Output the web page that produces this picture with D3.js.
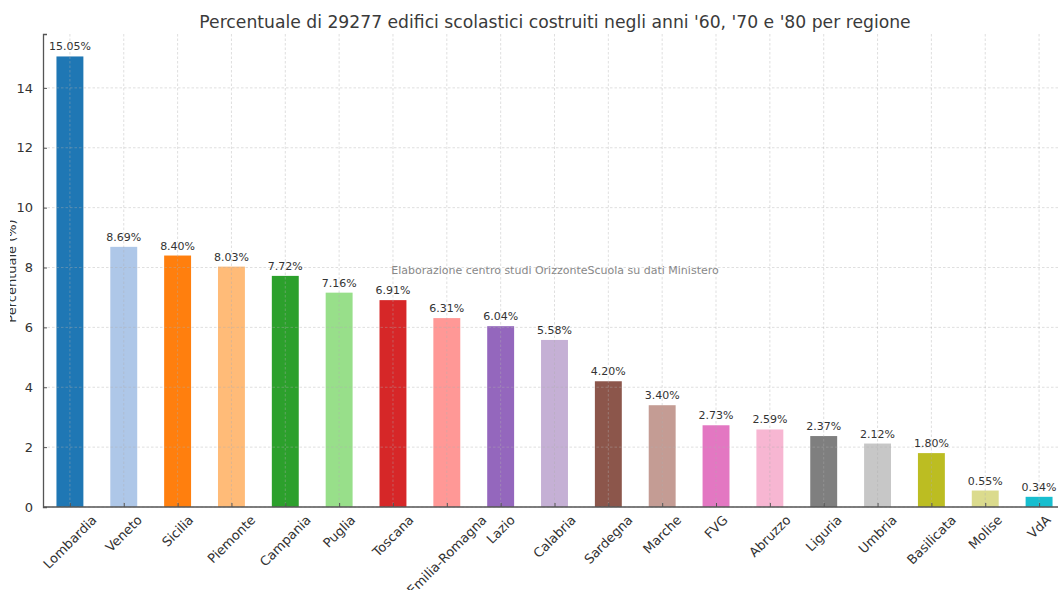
<!DOCTYPE html>
<html>
<head>
<meta charset="utf-8">
<script src="https://cdn.jsdelivr.net/npm/d3@7"></script>
<style>
  body { margin: 0; background: #fff; }
  text { font-family: "DejaVu Sans", sans-serif; }
</style>
</head>
<body>
<div id="the_chart"></div>
<script>
var regioni = ["Lombardia", "Veneto", "Sicilia", "Piemonte", "Campania", "Puglia", "Toscana",
               "Emilia-Romagna", "Lazio", "Calabria", "Sardegna", "Marche", "FVG", "Abruzzo",
               "Liguria", "Umbria", "Basilicata", "Molise", "VdA"];
var percentuali = [15.05, 8.69, 8.40, 8.03, 7.72, 7.16, 6.91, 6.31, 6.04, 5.58, 4.20, 3.40,
                   2.73, 2.59, 2.37, 2.12, 1.80, 0.55, 0.34];
var yticks = [0, 2, 4, 6, 8, 10, 12, 14];
var titolo = "Percentuale di 29277 edifici scolastici costruiti negli anni '60, '70 e '80 per regione";
var ylabel = "Percentuale (%)";
var nota = "Elaborazione centro studi OrizzonteScuola su dati Ministero";

var colori = ["#1f77b4", "#aec7e8", "#ff7f0e", "#ffbb78", "#2ca02c", "#98df8a", "#d62728",
              "#ff9896", "#9467bd", "#c5b0d5", "#8c564b", "#c49c94", "#e377c2", "#f7b6d2",
              "#7f7f7f", "#c7c7c7", "#bcbd22", "#dbdb8d", "#17becf"];

gen_vis();

function gen_vis() {
  var w = 1058, h = 590;
  var m_left = 43, m_top = 34, m_bottom = 507;

  var svg = d3.select("#the_chart").append("svg")
      .attr("width", w)
      .attr("height", h);

  var xscale = d3.scaleLinear()
      .domain([-0.5, regioni.length - 0.5])
      .range([m_left, 1066]);
  var yscale = d3.scaleLinear()
      .domain([0, 15.8])
      .range([m_bottom, m_top]);
  var bar_w = xscale(0.5) - xscale(0);

  // bars
  svg.selectAll("rect.bar")
      .data(percentuali)
    .enter().append("rect")
      .attr("class", "bar")
      .attr("x", function(d, i) { return xscale(i) - bar_w / 2; })
      .attr("y", function(d) { return yscale(d); })
      .attr("width", bar_w)
      .attr("height", function(d) { return m_bottom - yscale(d); })
      .attr("fill", function(d, i) { return colori[i]; });

  // grid
  var grid = svg.append("g").attr("class", "grid");
  grid.selectAll("line.h")
      .data(yticks)
    .enter().append("line")
      .attr("x1", m_left).attr("x2", w)
      .attr("y1", function(d) { return yscale(d); })
      .attr("y2", function(d) { return yscale(d); });
  grid.selectAll("line.v")
      .data(regioni)
    .enter().append("line")
      .attr("x1", function(d, i) { return xscale(i); })
      .attr("x2", function(d, i) { return xscale(i); })
      .attr("y1", m_top).attr("y2", m_bottom);
  grid.selectAll("line")
      .attr("stroke", "#b0b0b0")
      .attr("stroke-opacity", 0.5)
      .attr("stroke-width", 0.8)
      .attr("stroke-dasharray", "2.5,2");

  // y axis
  var yaxis = d3.axisLeft(yscale)
      .tickValues(yticks)
      .tickSize(-4)
      .tickPadding(10);
  var gy = svg.append("g")
      .attr("transform", "translate(" + m_left + ",0)")
      .call(yaxis);
  gy.select(".domain").attr("stroke", "#555").attr("stroke-width", 1.3);
  gy.selectAll(".tick line").attr("stroke", "#555");
  gy.selectAll(".tick text")
      .attr("fill", "#333")
      .style("font-size", "13px")
      .style("font-family", "DejaVu Sans");

  // x axis
  var xaxis = d3.axisBottom(xscale)
      .tickValues(d3.range(regioni.length))
      .tickSize(-4)
      .tickFormat("");
  var gx = svg.append("g")
      .attr("transform", "translate(0," + m_bottom + ")")
      .call(xaxis);
  gx.select(".domain").attr("d", "M" + m_left + ",0H" + w).attr("stroke", "#555").attr("stroke-width", 1.3);
  gx.selectAll(".tick line").attr("stroke", "#555");

  // category labels, rotated 45 and centred on tick
  svg.selectAll("text.cat")
      .data(regioni)
    .enter().append("text")
      .attr("class", "cat")
      .attr("text-anchor", "middle")
      .style("font-size", "13px")
      .attr("fill", "#333")
      .text(function(d) { return d; })
      .each(function(d, i) {
        var len = this.getComputedTextLength();
        var cx = xscale(i);
        var cy = m_bottom + 6 + (len + 13) * Math.SQRT1_2 / 2;
        d3.select(this)
          .attr("transform", "translate(" + cx + "," + cy + ") rotate(-45)")
          .attr("dy", "0.35em");
      });

  // value labels
  svg.selectAll("text.val")
      .data(percentuali)
    .enter().append("text")
      .attr("class", "val")
      .attr("x", function(d, i) { return xscale(i); })
      .attr("y", function(d) { return yscale(d) - 6; })
      .attr("text-anchor", "middle")
      .style("font-size", "11px")
      .attr("fill", "#333")
      .text(function(d) { return d.toFixed(2) + "%"; });

  // title
  svg.append("text")
      .attr("x", 555)
      .attr("y", 28)
      .attr("text-anchor", "middle")
      .style("font-size", "17.2px")
      .attr("fill", "#3a3a3a")
      .text(titolo);

  // watermark
  svg.append("text")
      .attr("x", 555)
      .attr("y", 274)
      .attr("text-anchor", "middle")
      .style("font-size", "11px")
      .attr("fill", "#888")
      .text(nota);

  // y label, partly cropped on the left as in the picture
  svg.append("clipPath").attr("id", "ycut")
    .append("rect").attr("x", 10).attr("y", 0).attr("width", 30).attr("height", h);
  svg.append("g")
      .attr("clip-path", "url(#ycut)")
    .append("text")
      .attr("transform", "translate(16,271) rotate(-90)")
      .attr("text-anchor", "middle")
      .style("font-size", "13px")
      .attr("fill", "#333")
      .text(ylabel);
}
</script>
</body>
</html>
